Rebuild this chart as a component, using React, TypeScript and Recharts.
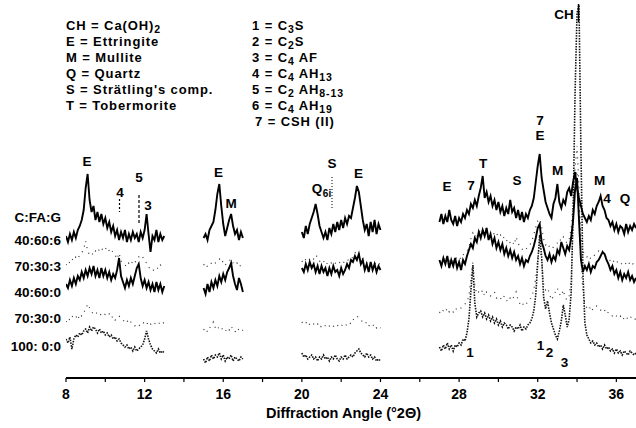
import React from 'react';
import { LineChart, Line, XAxis, YAxis } from 'recharts';

// scan windows (°2θ) – each pattern was recorded in four pieces, 0.1° steps
const SEGMENT_STARTS = [8, 15, 20, 27];
const STEP = 0.1;

// intensities above each pattern's own baseline, one array per scan window
const MIX_40_60_6 = [
  [-8, -14, -6, -12, -4, -10, -2, 2, 8, 18, 40, 54, 28, 16, 22, 8, 16, 6, 14, 4, 10, 0, 6, -4, 2, -8, -2, -12, -4, -10, -2, -14, -6, -12, -4, -10, -6, -14, -4, -10, -2, 14, -6, -24, -8, -12, -2, -14, -6, -12, -8],
  [-10, -6, -12, -2, 2, 6, 18, 34, 44, 22, 4, -8, 0, 8, 14, 2, -6, -2, -12, -4, -10],
  [-4, -10, 2, -6, 4, 10, 16, 24, 14, 2, -4, -10, -4, -12, 0, -6, 4, -4, 6, -2, 8, 0, 10, 4, 12, 10, 20, 30, 42, 36, 22, 8, -2, 4, -8, 6, -4, 8, -6, 4, -2],
  [
    6, 14, 4, 12, 6, 18, 8, 4, 12, 2,
    10, 6, 14, 10, 18, 14, 24, 20, 28, 22,
    32, 40, 52, 30, 36, 26, 32, 22, 28, 18,
    26, 16, 22, 12, 20, 14, 28, 16, 20, 10,
    18, 8, 16, 6, 14, 10, 18, 22, 30, 46,
    62, 74, 50, 38, 26, 20, 14, 10, 24, 30,
    44, 26, 20, 28, 24, 36, 40, 32, 46, 56,
    40, 30, 22, 14, 10, 6, 12, 8, 18, 14,
    22, 26, 32, 22, 18, 10, 8, 2, 6, -2,
    4, -4, 2, 0, -6, 4, -4, 2, -2, 4,
    0,
  ],
];

const MIX_70_30_3 = [
  [-2, 2, 0, 4, 2, 6, 4, 8, 10, 14, 22, 12, 8, 10, 8, 12, 10, 14, 12, 16, 14, 16, 12, 14, 10, 8, 4, 10, 2, 0, -2, -4, 0, -2, 2, 0, 4, 6, 8, 6, 2, 0, -4, -6, -8, -6, -4, -6, -2, -4, -6],
  [-2, 0, -4, -2, 0, 2, 0, 2, 4, 0, 2, -2, 0, 2, 4, 0, -2, 0, -4, -2, -4],
  [2, 0, 4, 2, 4, 6, 4, 8, 6, 2, 0, 2, -2, 0, 2, 0, 2, 0, -2, 0, 2, 0, 2, 4, 2, 4, 6, 10, 12, 10, 6, 4, 2, 0, 2, 0, -2, 0, -2, 0, -2],
  [
    2, 0, 4, 2, 6, 2, 4, 2, 6, 4,
    6, 4, 8, 10, 12, 16, 24, 30, 26, 28,
    30, 34, 32, 36, 34, 32, 30, 32, 28, 30,
    26, 28, 24, 26, 22, 24, 20, 22, 18, 26,
    20, 16, 14, 12, 14, 16, 18, 22, 28, 36,
    42, 44, 36, 24, 18, 20, 16, 14, 16, 18,
    20, 24, 22, 26, 22, 20, 24, 34, 60, 84,
    92, 60, 26, 12, 8, 6, 8, 4, 6, 8,
    10, 12, 10, 12, 8, 6, 4, 2, 4, 0,
    2, 0, -2, 0, -2, 0, 2, -2, 0, -2,
    0,
  ],
];

const MIX_40_60_0 = [
  [6, 2, 10, 4, 12, 6, 14, 10, 18, 12, 20, 14, 22, 16, 24, 14, 20, 12, 22, 14, 20, 12, 18, 10, 16, 12, 20, 32, 14, 8, 2, 10, 4, 12, 6, 14, 22, 26, 12, 4, 10, 2, 8, 0, 6, -2, 8, 0, 6, -2, 4],
  [2, -4, 6, -2, 8, 2, 10, 4, 14, 8, 16, 10, 18, 22, 27, 14, 6, 0, 12, 6, -2],
  [22, 18, 26, 20, 28, 22, 26, 18, 24, 16, 24, 18, 22, 14, 22, 16, 24, 18, 20, 14, 22, 16, 20, 26, 22, 30, 28, 34, 30, 36, 26, 30, 20, 26, 18, 28, 20, 26, 18, 24, 20],
  [
    30, 24, 32, 26, 34, 22, 30, 24, 32, 22,
    28, 20, 30, 26, 34, 40, 46, 42, 52, 48,
    58, 52, 60, 54, 62, 50, 56, 46, 52, 42,
    48, 40, 46, 36, 42, 34, 40, 32, 38, 30,
    34, 26, 32, 24, 30, 28, 34, 38, 44, 52,
    62, 66, 48, 42, 34, 30, 36, 28, 34, 30,
    40, 36, 48, 42, 36, 44, 40, 52, 70, 100,
    112, 70, 30, 18, 24, 20, 26, 18, 24, 22,
    28, 30, 34, 38, 36, 30, 26, 20, 24, 16,
    20, 12, 18, 10, 16, 12, 18, 10, 14, 8,
    12,
  ],
];

const MIX_70_30_0 = [
  [-4, 0, -2, 2, 0, 2, -2, 4, 2, 6, 8, 14, 10, 6, 4, 6, 4, 2, 4, 2, 4, 2, 4, 0, 2, -2, 0, 2, 0, -2, -4, -2, -6, -4, -6, -8, -6, -8, -6, -4, -6, -4, -8, -6, -8, -6, -4, -6, -4, -6, -4],
  [-12, -10, -14, -10, -8, -4, -10, -12, -8, -10, -12, -14, -10, -12, -8, -12, -14, -10, -12, -14, -12],
  [-4, -6, -4, -8, -6, -4, -6, -8, -6, -10, -8, -6, -8, -10, -8, -6, -8, -10, -8, -6, -8, -6, -8, -6, -4, -6, -2, 0, 2, 0, -2, -4, -6, -4, -8, -6, -8, -6, -10, -8, -10],
  [
    6, 4, 8, 6, 10, 6, 8, 6, 10, 8,
    8, 10, 12, 14, 16, 22, 40, 56, 32, 24,
    26, 24, 28, 22, 26, 24, 22, 24, 26, 20,
    22, 20, 18, 22, 18, 16, 20, 18, 22, 26,
    18, 14, 16, 12, 14, 16, 18, 22, 28, 40,
    60, 74, 56, 34, 28, 30, 24, 18, 22, 26,
    30, 24, 22, 28, 20, 18, 22, 40, 90, 150,
    172, 130, 60, 24, 14, 10, 8, 12, 8, 10,
    12, 10, 8, 6, 8, 4, 6, 4, 2, 4,
    2, 0, 2, -2, 0, 2, -2, 0, 2, 0,
    -2,
  ],
];

const MIX_100_0_0 = [
  [14, 10, 16, 4, 14, 18, 16, 20, 18, 22, 24, 20, 26, 22, 26, 24, 20, 24, 20, 22, 18, 20, 16, 18, 14, 16, 12, 14, 10, 8, 6, 8, 4, 6, 2, 6, 2, 4, 6, 8, 14, 22, 14, 8, 4, 2, 0, 4, 0, 2, 0],
  [-6, -10, -4, -8, -2, -6, -2, -4, 0, -6, -2, -8, -4, -6, -2, -8, -4, -6, -8, -4, -6],
  [0, -4, -2, -6, -4, -2, -6, -4, -8, -4, -6, -2, -6, -4, -8, -4, -6, -2, -6, -8, -4, -6, -2, -6, -4, -2, -4, 0, 2, 4, 0, -2, -4, 0, -4, -2, -6, -4, -8, -6, -8],
  [
    6, 2, 8, 4, 10, 4, 8, 2, 8, 6,
    10, 8, 14, 12, 20, 34, 62, 88, 50, 36,
    40, 42, 36, 40, 34, 38, 32, 36, 30, 34,
    28, 32, 26, 30, 28, 24, 28, 26, 22, 26,
    24, 28, 22, 26, 24, 28, 30, 34, 42, 58,
    90, 118, 96, 56, 44, 52, 40, 30, 24, 18,
    14, 22, 32, 48, 38, 26, 34, 60, 140, 260,
    340, 348, 200, 80, 30, 18, 14, 10, 12, 8,
    10, 6, 8, 4, 8, 4, 6, 2, 4, 0,
    4, 0, 2, -2, 2, 0, -2, 2, 0, -2,
    0,
  ],
];

const MIX_LABELS = ['40:60:6', '70:30:3', '40:60:0', '70:30:0', '100: 0:0'];
const TICKS = [8, 10, 12, 14, 16, 18, 20, 22, 24, 26, 28, 30, 32, 34, 36];

// vertical stacking of the patterns
const OFFSETS = [150, 115, 88, 60, 25];

const SERIES = [
  { key: 'm406006', values: MIX_40_60_6 },
  { key: 'm703003', values: MIX_70_30_3 },
  { key: 'm406000', values: MIX_40_60_0 },
  { key: 'm703000', values: MIX_70_30_0 },
  { key: 'm100000', values: MIX_100_0_0 },
];

const rows: Record<string, number | null>[] = [];
SEGMENT_STARTS.forEach((start, si) => {
  const n = SERIES[0].values[si].length;
  for (let i = 0; i < n; i++) {
    const row: Record<string, number | null> = { theta: +(start + i * STEP).toFixed(1) };
    SERIES.forEach((s, k) => {
      row[s.key] = s.values[si][i] + OFFSETS[k];
    });
    rows.push(row);
  }
  if (si < SEGMENT_STARTS.length - 1) {
    const gap: Record<string, number | null> = { theta: +(start + n * STEP + 0.5).toFixed(1) };
    SERIES.forEach((s) => (gap[s.key] = null));
    rows.push(gap);
  }
});

const FONT = '"Liberation Sans", Arial, Helvetica, sans-serif';

const LEFT_LABEL_Y = [245, 271, 297, 323, 351];

const PEAKS = [
  { t: 'E', x: 87, y: 166 },
  { t: '4', x: 120, y: 197 },
  { t: '5', x: 139, y: 182 },
  { t: '3', x: 148, y: 210 },
  { t: 'E', x: 218.5, y: 177 },
  { t: 'M', x: 231, y: 208 },
  { t: 'S', x: 332, y: 168 },
  { t: 'E', x: 358.5, y: 178 },
  { t: 'E', x: 447, y: 191 },
  { t: '7', x: 471, y: 190 },
  { t: 'T', x: 483, y: 168 },
  { t: 'S', x: 517, y: 185 },
  { t: '7', x: 540, y: 125 },
  { t: 'E', x: 540, y: 140 },
  { t: 'M', x: 557.5, y: 175 },
  { t: 'M', x: 599.5, y: 185 },
  { t: '4', x: 607, y: 203 },
  { t: 'Q', x: 625, y: 203 },
  { t: '1', x: 470, y: 357 },
  { t: '1', x: 540.5, y: 350 },
  { t: '2', x: 549.5, y: 357 },
  { t: '3', x: 564.5, y: 367 },
];

type Part = [string, boolean?];
const KEY_LEFT: Part[][] = [
  [['CH = Ca(OH)'], ['2', true]],
  [['E = Ettringite']],
  [['M = Mullite']],
  [['Q = Quartz']],
  [['S = Strätling\'s comp.']],
  [['T = Tobermorite']],
];
const KEY_RIGHT: Part[][] = [
  [['1 = C'], ['3', true], ['S']],
  [['2 = C'], ['2', true], ['S']],
  [['3 = C'], ['4', true], [' AF']],
  [['4 = C'], ['4', true], [' AH'], ['13', true]],
  [['5 = C'], ['2', true], [' AH'], ['8-13', true]],
  [['6 = C'], ['4', true], [' AH'], ['19', true]],
  [['7 = CSH (II)']],
];
const KEY_Y = [29.5, 45.5, 61.5, 77.5, 93.5, 109.5, 126];

function KeyLine({ parts, x, y }: { parts: Part[]; x: number; y: number }) {
  let shifted = false;
  return (
    <text x={x} y={y} fontSize={13} fontWeight="bold" fontFamily={FONT} letterSpacing={0.9} fill="#000" style={{ whiteSpace: 'pre' }}>
      {parts.map(([t, sub], i) => {
        let dy = 0;
        if (sub && !shifted) { dy = 3; shifted = true; }
        else if (!sub && shifted) { dy = -3; shifted = false; }
        return (
          <tspan key={i} dy={dy} fontSize={sub ? 10.5 : 13}>{t}</tspan>
        );
      })}
    </text>
  );
}

const TickLabel = ({ x, y, payload }: { x?: number; y?: number; payload?: { value: number } }) => {
  if (!payload || payload.value % 4 !== 0) return <g />;
  return (
    <text x={x} y={(y ?? 0) + 15} textAnchor="middle" fontSize={14} fontWeight="bold" fontFamily={FONT} fill="#000">
      {payload.value}
    </text>
  );
};

export default function App() {
  return (
    <div style={{ position: 'absolute', left: 0, top: 0, width: 636, height: 428, background: '#fff' }}>
      <LineChart width={636} height={428} data={rows} margin={{ top: 0, right: 0, bottom: 0, left: 66 }}>
        <XAxis
          dataKey="theta"
          type="number"
          domain={[8, 37]}
          ticks={TICKS}
          interval={0}
          allowDataOverflow
          height={50}
          tickSize={4}
          axisLine={{ stroke: '#000', strokeWidth: 2 }}
          tickLine={{ stroke: '#000', strokeWidth: 1.2 }}
          tick={<TickLabel />}
        />
        <YAxis hide type="number" domain={[0, 378]} allowDataOverflow />
        <Line dataKey="m100000" stroke="#111" strokeWidth={1.6} strokeDasharray="1.5 1.2" dot={false} activeDot={false} isAnimationActive={false} />
        <Line dataKey="m703000" stroke="#333" strokeWidth={1.2} strokeDasharray="1 5" dot={false} activeDot={false} isAnimationActive={false} />
        <Line dataKey="m703003" stroke="#333" strokeWidth={1.2} strokeDasharray="1 5" dot={false} activeDot={false} isAnimationActive={false} />
        <Line dataKey="m406000" stroke="#000" strokeWidth={1.9} dot={false} activeDot={false} isAnimationActive={false} />
        <Line dataKey="m406006" stroke="#000" strokeWidth={1.9} dot={false} activeDot={false} isAnimationActive={false} />
      </LineChart>
      <svg width={636} height={428} style={{ position: 'absolute', left: 0, top: 0, pointerEvents: 'none' }}>
        {KEY_LEFT.map((p, i) => <KeyLine key={'l' + i} parts={p} x={66} y={KEY_Y[i]} />)}
        {KEY_RIGHT.map((p, i) => <KeyLine key={'r' + i} parts={p} x={i === 6 ? 255 : 252} y={KEY_Y[i]} />)}

        <g fontFamily={FONT} fontWeight="bold" fontSize={13.5} fill="#000">
          <text x={61} y={222} textAnchor="end">C:FA:G</text>
          {MIX_LABELS.map((m, i) => (
            <text key={m} x={61} y={LEFT_LABEL_Y[i]} textAnchor="end" style={{ whiteSpace: 'pre' }}>{m}</text>
          ))}
        </g>

        <g fontFamily={FONT} fontWeight="bold" fontSize={13.5} fill="#000" textAnchor="middle">
          {PEAKS.map((p, i) => <text key={i} x={p.x} y={p.y}>{p.t}</text>)}
          <text x={317} y={193}>Q</text>
          <text x={327} y={197} fontSize={10}>6i</text>
          <text x={564} y={18.5}>CH</text>
        </g>

        <line x1={578.5} y1={4} x2={578.5} y2={22} stroke="#000" strokeWidth={1.5} />
        <line x1={119.5} y1={199} x2={119.5} y2={212} stroke="#000" strokeWidth={1.2} strokeDasharray="2 2" />
        <line x1={139} y1={195} x2={139} y2={223} stroke="#000" strokeWidth={1.2} strokeDasharray="3 2" />
        <line x1={332} y1={177} x2={332} y2={210} stroke="#000" strokeWidth={1} strokeDasharray="1 2" />

        <text x={343.5} y={418} textAnchor="middle" fontFamily={FONT} fontWeight="bold" fontSize={14.5} fill="#000">
          Diffraction Angle (°2Θ)
        </text>
      </svg>
    </div>
  );
}
